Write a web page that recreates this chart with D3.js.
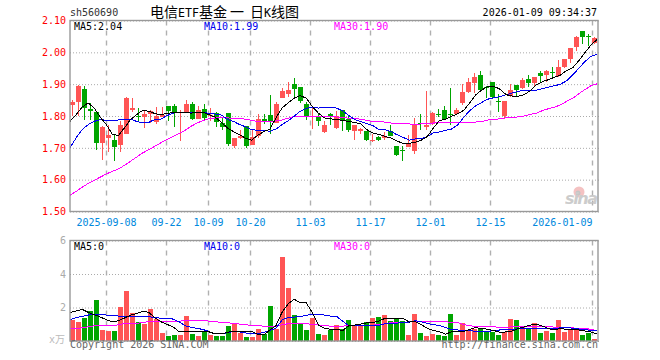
<!DOCTYPE html>
<html lang="en">
<head>
  <meta charset="UTF-8">
  <title>电信ETF基金 日K线图</title>
  <style>
    html, body { margin: 0; padding: 0; background: #fff; }
    text { font-family: "DejaVu Sans Mono", monospace; font-size: 10px; }
    .line { fill: none; shape-rendering: crispEdges; }
  </style>
</head>
<body>
<div id="chart"></div>
<script src="https://d3js.org/d3.v7.min.js"></script>
<script>
    // DATA =======================================================================================
    const opens = [1.833,1.843,1.885,1.822,1.812,1.715,1.73,1.726,1.709,1.746,1.82,1.80,1.798,1.806,1.78,1.799,1.832,1.832,1.811,1.815,1.839,1.792,1.823,1.80,1.809,1.778,1.81,1.707,1.732,1.77,1.71,1.736,1.792,1.804,1.78,1.857,1.87,1.901,1.891,1.839,1.798,1.796,1.751,1.807,1.762,1.819,1.792,1.754,1.754,1.754,1.723,1.735,1.73,1.754,1.707,1.692,1.705,1.69,1.777,1.768,1.776,1.807,1.82,1.806,1.806,1.839,1.875,1.904,1.929,1.89,1.907,1.848,1.80,1.864,1.898,1.888,1.917,1.903,1.935,1.926,1.939,1.925,1.954,1.979,2.017,2.067,2.051,2.027];
    const highs = [1.849,1.896,1.895,1.84,1.812,1.768,1.771,1.74,1.783,1.86,1.857,1.826,1.818,1.818,1.829,1.829,1.832,1.839,1.818,1.851,1.843,1.83,1.838,1.825,1.811,1.794,1.81,1.732,1.755,1.77,1.76,1.805,1.807,1.865,1.845,1.8875,1.907,1.92,1.891,1.843,1.828,1.809,1.785,1.809,1.817,1.819,1.803,1.773,1.762,1.754,1.742,1.737,1.751,1.773,1.707,1.707,1.741,1.795,1.807,1.88,1.812,1.823,1.832,1.889,1.826,1.901,1.919,1.936,1.94,1.894,1.907,1.869,1.848,1.901,1.898,1.92,1.928,1.923,1.94,1.943,1.954,1.976,1.979,2.014,2.052,2.067,2.057,2.047];
    const lows = [1.801,1.80,1.789,1.786,1.693,1.661,1.686,1.658,1.686,1.742,1.812,1.784,1.762,1.778,1.776,1.797,1.783,1.766,1.723,1.809,1.789,1.791,1.789,1.785,1.766,1.755,1.707,1.70,1.729,1.70,1.71,1.73,1.776,1.745,1.778,1.855,1.861,1.861,1.841,1.786,1.76,1.77,1.747,1.773,1.76,1.754,1.751,1.726,1.742,1.723,1.719,1.72,1.724,1.736,1.675,1.658,1.703,1.68,1.755,1.755,1.772,1.797,1.789,1.773,1.804,1.835,1.873,1.872,1.88,1.855,1.853,1.814,1.792,1.861,1.861,1.884,1.892,1.895,1.905,1.907,1.918,1.923,1.952,1.968,2.004,2.026,2.02,2.025];
    const closes = [1.843,1.893,1.825,1.815,1.715,1.764,1.74,1.704,1.773,1.858,1.826,1.799,1.807,1.815,1.80,1.804,1.815,1.814,1.814,1.839,1.792,1.82,1.794,1.804,1.78,1.766,1.714,1.732,1.737,1.707,1.735,1.79,1.786,1.781,1.839,1.879,1.882,1.885,1.848,1.80,1.80,1.785,1.773,1.802,1.801,1.789,1.757,1.773,1.759,1.726,1.726,1.726,1.737,1.739,1.679,1.69,1.713,1.776,1.775,1.773,1.81,1.805,1.791,1.804,1.82,1.875,1.907,1.923,1.882,1.888,1.859,1.845,1.848,1.882,1.883,1.914,1.905,1.923,1.927,1.94,1.937,1.954,1.979,2.014,2.049,2.049,2.049,2.044];
    const ma5 = [1.783,1.804,1.828,1.841,1.825,1.796,1.773,1.742,1.739,1.763,1.789,1.804,1.818,1.815,1.808,1.804,1.808,1.811,1.811,1.8125,1.809,1.811,1.811,1.804,1.796,1.78,1.7625,1.751,1.741,1.73,1.724,1.74,1.751,1.759,1.794,1.825,1.841,1.856,1.864,1.856,1.83,1.809,1.794,1.791,1.789,1.786,1.783,1.78,1.775,1.757,1.747,1.742,1.736,1.731,1.721,1.714,1.714,1.718,1.724,1.736,1.7625,1.786,1.79,1.799,1.807,1.818,1.841,1.867,1.882,1.893,1.893,1.884,1.867,1.8625,1.8625,1.867,1.88,1.898,1.908,1.914,1.922,1.929,1.943,1.952,1.974,1.999,2.023,2.04];
    const ma10 = [1.70,1.731,1.757,1.773,1.783,1.789,1.786,1.785,1.7875,1.79,1.79,1.783,1.778,1.78,1.789,1.79,1.801,1.809,1.811,1.811,1.8125,1.8125,1.811,1.808,1.806,1.803,1.789,1.783,1.773,1.766,1.757,1.755,1.755,1.752,1.759,1.773,1.785,1.799,1.815,1.824,1.828,1.825,1.826,1.828,1.825,1.816,1.802,1.789,1.782,1.776,1.77,1.757,1.757,1.751,1.741,1.733,1.724,1.728,1.729,1.736,1.747,1.75,1.755,1.759,1.772,1.796,1.817,1.832,1.843,1.853,1.857,1.861,1.867,1.872,1.878,1.88,1.881,1.881,1.886,1.891,1.895,1.90,1.911,1.929,1.95,1.971,1.987,1.994];
    const ma30 = [1.551,1.563,1.576,1.588,1.598,1.608,1.618,1.626,1.634,1.645,1.658,1.671,1.684,1.694,1.705,1.716,1.726,1.735,1.745,1.755,1.768,1.778,1.786,1.792,1.794,1.794,1.794,1.793,1.792,1.79,1.786,1.783,1.782,1.782,1.784,1.7875,1.793,1.799,1.799,1.799,1.799,1.799,1.799,1.798,1.797,1.795,1.793,1.792,1.79,1.786,1.783,1.782,1.781,1.778,1.776,1.775,1.775,1.774,1.775,1.776,1.778,1.779,1.78,1.781,1.781,1.781,1.781,1.781,1.783,1.7875,1.7885,1.792,1.794,1.796,1.797,1.80,1.805,1.809,1.817,1.823,1.828,1.835,1.846,1.856,1.87,1.883,1.895,1.901];
    const volumes = [1.25,1.13,1.37,1.79,2.45,0.66,0.6,0.6,2.03,2.98,1.67,1.13,1.01,1.91,1.31,0.48,0.3,0.36,0.36,1.49,0.42,0.3,0.56,0.36,0.3,0.3,0.89,1.07,0.46,0.24,0.24,0.72,0.42,2.09,0.72,5.01,3.16,1.55,1.07,0.66,1.37,0.42,0.36,0.66,0.95,0.72,1.25,0.89,0.89,1.13,1.37,1.43,1.55,1.19,1.31,1.19,0.36,1.61,0.48,0.3,0.42,0.36,0.3,1.61,0.36,1.07,0.66,0.72,0.72,0.54,0.54,0.36,0.54,1.31,1.25,0.89,0.72,1.07,0.48,0.6,0.48,1.25,0.54,0.66,0.72,0.36,0.48,0.12];
    const volMa5 = [1.71,1.79,1.89,1.71,1.57,1.43,1.27,1.15,1.21,1.37,1.55,1.63,1.77,1.71,1.39,1.15,0.99,0.85,0.56,0.58,0.58,0.58,0.58,0.54,0.42,0.42,0.52,0.58,0.58,0.58,0.58,0.40,0.36,0.66,0.91,1.71,2.21,2.49,2.29,2.27,1.71,0.95,0.76,0.70,0.70,0.62,0.91,0.95,1.01,1.09,1.11,1.19,1.35,1.35,1.35,1.35,1.13,1.15,0.97,0.76,0.62,0.56,0.40,0.56,0.56,0.56,0.7,0.8,0.74,0.70,0.62,0.52,0.54,0.6,0.74,0.84,0.95,1.01,0.89,0.74,0.66,0.76,0.68,0.66,0.66,0.6,0.54,0.42];
    const volMa10 = [1.27,1.39,1.47,1.55,1.59,1.57,1.55,1.53,1.49,1.47,1.49,1.49,1.47,1.45,1.41,1.35,1.35,1.31,1.15,0.91,0.81,0.76,0.68,0.56,0.42,0.42,0.5,0.56,0.54,0.48,0.44,0.44,0.52,0.64,0.76,1.25,1.41,1.43,1.45,1.53,1.61,1.61,1.55,1.49,1.47,1.19,0.93,0.91,0.91,0.91,0.91,0.93,1.03,1.07,1.07,1.09,1.13,1.21,1.15,1.05,0.97,0.93,0.80,0.68,0.66,0.62,0.62,0.58,0.56,0.58,0.62,0.66,0.66,0.66,0.76,0.76,0.76,0.76,0.76,0.76,0.76,0.78,0.82,0.76,0.72,0.68,0.64,0.6];
    const volMa30 = [0.74,0.74,0.78,0.85,0.91,0.93,0.93,0.91,0.97,1.05,1.05,1.05,1.11,1.15,1.15,1.15,1.15,1.15,1.17,1.23,1.23,1.23,1.21,1.19,1.15,1.11,1.09,1.05,1.01,0.97,0.93,0.91,0.89,0.87,0.87,0.97,1.03,1.05,1.07,1.03,0.99,0.95,0.91,0.89,0.89,0.89,0.91,0.91,0.91,0.93,0.95,0.99,1.03,1.09,1.11,1.13,1.13,1.15,1.15,1.17,1.17,1.15,1.15,1.11,1.09,0.99,0.91,0.87,0.87,0.87,0.85,0.8,0.8,0.85,0.87,0.87,0.87,0.87,0.87,0.85,0.83,0.8,0.8,0.78,0.76,0.74,0.7,0.62];

    const priceTicks = [1.5, 1.6, 1.7, 1.8, 1.9, 2.0, 2.1];
    const volTicks = [0, 2, 4, 6];
    const dateIndex = [6, 16, 23, 30, 40, 50, 60, 70, 87];
    const dateLabels = ["2025-09-08", "09-22", "10-09", "10-20", "11-03", "11-17", "12-01", "12-15", "2026-01-09"];

    // PLOT AREA ==================================================================================
    const width = 660, height = 360;
    const left = 70, right = 598;
    const priceTop = 20.5, priceBottom = 211.5;
    const volTop = 240.5, volBottom = 341;
    const red = "#ff5555", green = "#00a500";

    const svg = d3.select("#chart")
      .append("svg")
        .attr("width", width)
        .attr("height", height)
        .style("display", "block");

    // SCALES =====================================================================================
    const n = closes.length;
    const band = d3.scaleBand().domain(d3.range(n)).range([left, right - 1]).paddingInner(1 / 6);
    const xEdge = d3.scaleLinear().domain([0, n]).range([left, right]);
    const xLine = d3.scalePoint().domain(d3.range(n)).range([left, right - 1]);
    const yPrice = d3.scaleLinear().domain([1.5, 2.1]).range([priceBottom, priceTop]);
    const yVol = d3.scaleLinear().domain([0, 6]).range([volBottom, volTop]);

    // GRID AND AXES ==============================================================================
    function panel(y, ticks, top, bottom, color, fmt) {
      const g = svg.append("g");
      // vertical dashed lines
      g.selectAll(".v").data(dateIndex).join("line")
        .attr("x1", d => Math.round(xEdge(d)) + 0.5).attr("x2", d => Math.round(xEdge(d)) + 0.5)
        .attr("y1", top).attr("y2", bottom)
        .attr("stroke", "#b0b0b0").attr("stroke-width", 1.4).attr("stroke-dasharray", "5,5");
      // horizontal dotted lines + labels through the axis
      const axis = g.append("g")
        .attr("transform", `translate(${left},0)`)
        .call(d3.axisLeft(y).tickValues(ticks).tickSize(-(right - left + 1)).tickPadding(4).tickFormat(fmt));
      axis.select(".domain").remove();
      axis.selectAll("line").attr("stroke", "#aaa").attr("stroke-dasharray", "1,2");
      axis.selectAll("text").attr("fill", color).attr("font-size", 10).style("font-size", "10px");
    }
    panel(yPrice, priceTicks, priceTop, priceBottom, "#ff0000", d3.format(".2f"));
    panel(yVol, volTicks, volTop, volBottom, "#aaaaaa", d3.format("d"));
    svg.selectAll(".tick text").filter(d => d === 0).remove();

    const xAxis = svg.append("g")
      .attr("transform", `translate(0,${priceBottom + 3})`)
      .call(d3.axisBottom(xEdge).tickValues(dateIndex).tickSize(0).tickPadding(4)
        .tickFormat((d, i) => dateLabels[i]));
    xAxis.select(".domain").remove();
    xAxis.selectAll("text").attr("fill", "#0088dd").style("font-size", "10px")
      .attr("text-anchor", (d, i) => i === dateIndex.length - 1 ? "end" : "middle");

    // sina logo sits behind the marks
    const logo = svg.append("g").attr("opacity", 0.85);
    logo.append("circle").attr("cx", 579).attr("cy", 192).attr("r", 5.5).attr("fill", "#f3b8b8");
    logo.append("circle").attr("cx", 578).attr("cy", 193).attr("r", 2.5).attr("fill", "#bbb");
    logo.append("text").attr("x", 565).attr("y", 204)
      .style("font-family", "'DejaVu Sans'").style("font-size", "16px")
      .style("font-style", "italic").style("font-weight", "bold")
      .attr("fill", "#c4c4c4").attr("textLength", 33).text("sina");

    // CANDLES ====================================================================================
    const rows = d3.range(n);
    const isUp = i => closes[i] >= opens[i];
    const candles = svg.append("g");
    candles.selectAll(".wick").data(rows).join("rect")
      .attr("x", i => Math.round(band(i)) + 2)
      .attr("width", 1)
      .attr("y", i => Math.round(yPrice(highs[i])))
      .attr("height", i => Math.max(1, Math.round(yPrice(lows[i])) - Math.round(yPrice(highs[i]))))
      .attr("fill", i => isUp(i) ? red : green);
    candles.selectAll(".body").data(rows).join("rect")
      .attr("x", i => Math.round(band(i)))
      .attr("width", 5)
      .attr("y", i => Math.round(yPrice(Math.max(opens[i], closes[i]))))
      .attr("height", i => Math.max(1, Math.round(Math.abs(yPrice(opens[i]) - yPrice(closes[i])))))
      .attr("fill", i => isUp(i) ? red : green);

    // VOLUME BARS ================================================================================
    svg.append("g").selectAll("rect").data(rows).join("rect")
      .attr("x", i => Math.round(band(i)))
      .attr("width", 5)
      .attr("y", i => Math.round(yVol(volumes[i])))
      .attr("height", i => Math.round(volBottom) - Math.round(yVol(volumes[i])))
      .attr("fill", i => isUp(i) ? red : green);

    // MOVING AVERAGES ============================================================================
    function maLine(values, y, color, w) {
      const line = d3.line().x((d, i) => xLine(i)).y(d => y(d));
      svg.append("path").datum(values).attr("class", "line")
        .attr("d", line).attr("stroke", color).attr("stroke-width", w);
    }
    maLine(ma30, yPrice, "#ff00ff", 1);
    maLine(ma10, yPrice, "#0000ee", 1);
    maLine(ma5, yPrice, "#000000", 1);
    maLine(volMa30, yVol, "#ff00ff", 1);
    maLine(volMa10, yVol, "#0000ee", 1);
    maLine(volMa5, yVol, "#000000", 1);

    // FRAMES =====================================================================================
    [[priceTop, priceBottom], [volTop, volBottom]].forEach(([t, b]) => {
      svg.append("rect")
        .attr("x", left).attr("y", t)
        .attr("width", right - left).attr("height", b - t)
        .attr("fill", "none").attr("stroke", "#999").attr("stroke-width", 1.4);
    });

    // TEXT =======================================================================================
    function label(x, y, txt, color, size) {
      return svg.append("text").attr("x", x).attr("y", y).attr("fill", color)
        .style("font-size", (size || 10) + "px").text(txt);
    }
    label(70, 16, "sh560690", "#333333");
    label(597, 16, "2026-01-09 09:34:37", "#000000").attr("text-anchor", "end");

    const cjk = "'Noto Sans CJK SC'";
    const title = svg.append("text").attr("x", 150).attr("y", 17).attr("fill", "#000");
    title.append("tspan").style("font-family", cjk).style("font-size", "14px").text("电信");
    title.append("tspan").style("font-size", "11.6px").text("ETF");
    title.append("tspan").style("font-family", cjk).style("font-size", "14px").text("基金");
    title.append("tspan").attr("x", 230).style("font-family", cjk).style("font-size", "14px").text("一");
    title.append("tspan").attr("x", 250).style("font-family", cjk).style("font-size", "14px").text("日");
    title.append("tspan").style("font-size", "11.6px").text("K");
    title.append("tspan").style("font-family", cjk).style("font-size", "14px").text("线图");

    label(74, 30, "MA5:2.04", "#000000");
    label(204, 30, "MA10:1.99", "#0000ee");
    label(334, 30, "MA30:1.90", "#ff00ff");
    label(74, 250, "MA5:0", "#000000");
    label(204, 250, "MA10:0", "#0000ee");
    label(334, 250, "MA30:0", "#ff00ff");

    label(70, 348, "Copyright 2026 SINA.COM", "#666666");
    label(598, 348, "http://finance.sina.com.cn", "#666666").attr("text-anchor", "end");
    label(49, 343, "x", "#bbbbbb");
    label(55, 343, "万", "#bbbbbb").style("font-family", cjk);
</script>
</body>
</html>
